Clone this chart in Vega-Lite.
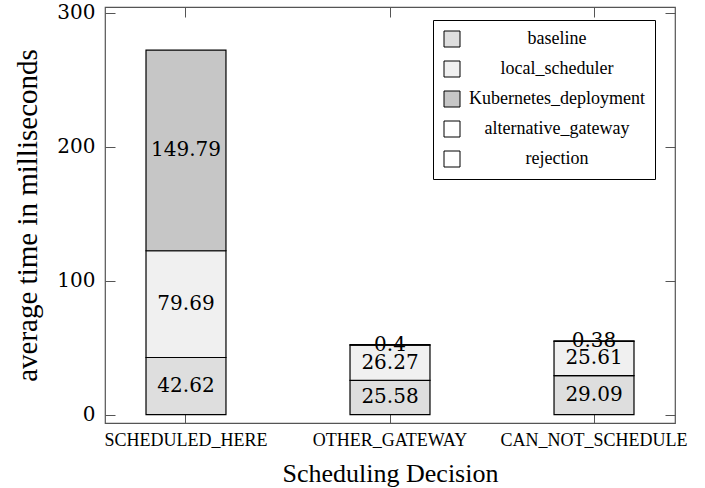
{
  "$schema": "https://vega.github.io/schema/vega-lite/v6.json",
  "width": 570,
  "height": 416,
  "autosize": {"type": "none"},
  "padding": {"left": 105, "top": 7, "right": 30, "bottom": 65},
  "background": "white",
  "config": {
    "view": {"stroke": "#555555", "strokeWidth": 1.2},
    "axis": {"domain": false, "grid": false, "tickColor": "#555555", "tickSize": -10, "tickWidth": 1, "labelColor": "black", "titleColor": "black", "titleFontWeight": "normal", "labelLimit": 0}
  },
  "data": {
    "values": [
      {"decision": "SCHEDULED_HERE", "series": "baseline", "value": 42.62},
      {"decision": "SCHEDULED_HERE", "series": "local_scheduler", "value": 79.69},
      {"decision": "SCHEDULED_HERE", "series": "Kubernetes_deployment", "value": 149.79},
      {"decision": "OTHER_GATEWAY", "series": "baseline", "value": 25.58},
      {"decision": "OTHER_GATEWAY", "series": "local_scheduler", "value": 26.27},
      {"decision": "OTHER_GATEWAY", "series": "alternative_gateway", "value": 0.4},
      {"decision": "CAN_NOT_SCHEDULE", "series": "baseline", "value": 29.09},
      {"decision": "CAN_NOT_SCHEDULE", "series": "local_scheduler", "value": 25.61},
      {"decision": "CAN_NOT_SCHEDULE", "series": "rejection", "value": 0.38}
    ]
  },
  "resolve": {"axis": {"x": "independent", "y": "independent"}},
  "layer": [
    {
      "transform": [
        {"calculate": "indexof(['baseline','local_scheduler','Kubernetes_deployment','alternative_gateway','rejection'], datum.series)", "as": "ord"}
      ],
      "mark": {"type": "bar", "stroke": "black", "strokeWidth": 1.2},
      "encoding": {
        "x": {
          "field": "decision", "type": "nominal",
          "sort": ["SCHEDULED_HERE", "OTHER_GATEWAY", "CAN_NOT_SCHEDULE"],
          "scale": {"paddingInner": 0.608, "paddingOuter": 0.201},
          "axis": {"orient": "bottom", "labelAngle": 0, "labelFont": "Liberation Serif", "labelFontSize": 18, "labelPadding": 18, "labelBaseline": "top", "labelLimit": 0,
                   "title": "Scheduling Decision", "titleFont": "Liberation Serif", "titleFontSize": 26, "titlePadding": 11}
        },
        "y": {
          "field": "value", "type": "quantitative", "stack": "zero",
          "scale": {"domain": [-6.3, 304.3], "nice": false, "zero": false},
          "axis": {"orient": "left", "values": [0, 100, 200, 300], "labelFont": "DejaVu Serif", "labelFontSize": 20, "labelPadding": 20,
                   "title": "average time in milliseconds", "titleFont": "Liberation Serif", "titleFontSize": 29, "titlePadding": 14}
        },
        "order": {"field": "ord", "type": "quantitative"},
        "color": {
          "field": "series", "type": "nominal",
          "scale": {
            "domain": ["baseline", "local_scheduler", "Kubernetes_deployment", "alternative_gateway", "rejection"],
            "range": ["#dedede", "#f0f0f0", "#c6c6c6", "#ffffff", "#ffffff"]
          },
          "legend": {
            "orient": "none", "legendX": 328, "legendY": 13, "title": null,
            "symbolType": "square", "symbolSize": 256, "symbolStrokeColor": "black", "symbolStrokeWidth": 1,
            "labelFont": "Liberation Serif", "labelFontSize": 18, "labelColor": "black", "labelAlign": "center", "labelOffset": 96, "labelLimit": 0,
            "rowPadding": 10, "padding": 10, "strokeColor": "black", "fillColor": "white"
          }
        }
      }
    },
    {
      "transform": [
        {"stack": "value", "groupby": ["decision"], "as": ["v0", "v1"]},
        {"calculate": "(datum.v0 + datum.v1) / 2", "as": "mid"}
      ],
      "mark": {"type": "text", "font": "DejaVu Serif", "fontSize": 20, "baseline": "middle", "color": "black"},
      "encoding": {
        "x": {
          "field": "decision", "type": "nominal",
          "sort": ["SCHEDULED_HERE", "OTHER_GATEWAY", "CAN_NOT_SCHEDULE"],
          "axis": {"orient": "top", "labels": false, "title": null}
        },
        "y": {
          "field": "mid", "type": "quantitative",
          "scale": {"domain": [-6.3, 304.3], "nice": false, "zero": false},
          "axis": {"orient": "right", "values": [0, 100, 200, 300], "labels": false, "title": null}
        },
        "text": {"field": "value", "type": "nominal"}
      }
    }
  ]
}
